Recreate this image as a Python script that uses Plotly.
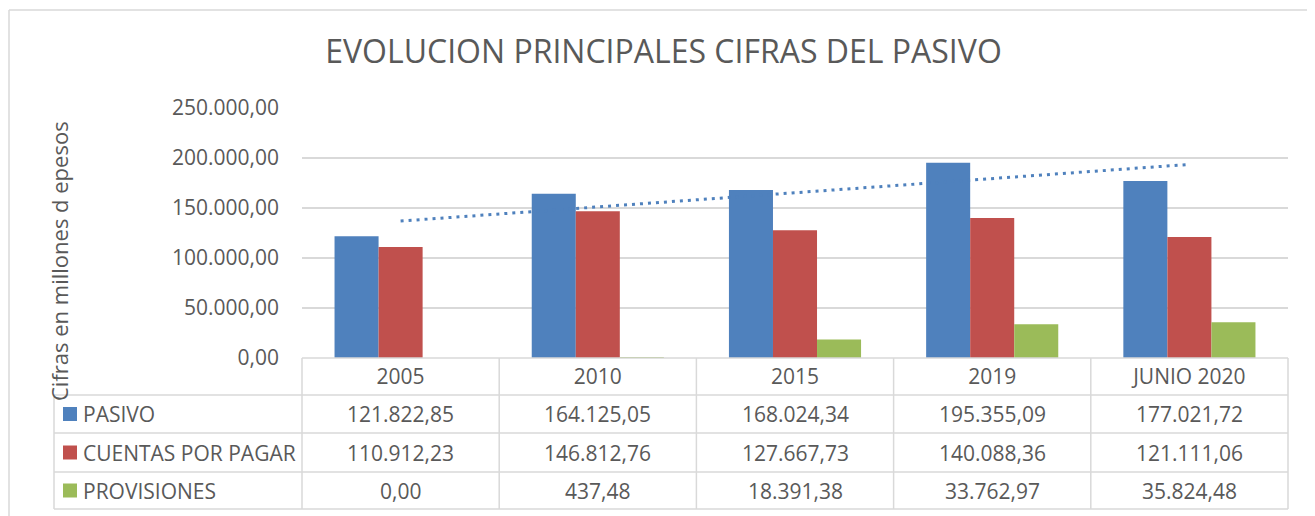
import numpy as np
import plotly.graph_objects as go

categories = ["2005", "2010", "2015", "2019", "JUNIO 2020"]
pasivo = [121822.85, 164125.05, 168024.34, 195355.09, 177021.72]
cuentas = [110912.23, 146812.76, 127667.73, 140088.36, 121111.06]
provisiones = [0.00, 437.48, 18391.38, 33762.97, 35824.48]
series_names = ["PASIVO", "CUENTAS POR PAGAR", "PROVISIONES"]
series_colors = ["#4F81BD", "#C0504D", "#9BBB59"]
y_ticks = [0, 50000, 100000, 150000, 200000, 250000]

TXT = "#595959"
GRID = "#D9D9D9"
FONT = "Open Sans"

OFF = 8  # page body margin
VW, VH = 1315, 516
W, H = VW - OFF, VH - OFF
# plot area in page pixels: x 302..1288, y 108..358
L = 302 - OFF
R = VW - 1288
T = 108 - OFF
B = VH - 358
PW = W - L - R
PH = H - T - B


def es(v):
    s = f"{v:,.2f}"
    return s.replace(",", "X").replace(".", ",").replace("X", ".")


def px_x(p):  # page px -> paper
    return (p - OFF - L) / PW


def px_y(p):
    return (H + OFF - B - p) / PH


fig = go.Figure()
for name, vals, col in zip(series_names, [pasivo, cuentas, provisiones], series_colors):
    fig.add_trace(go.Bar(x=categories, y=vals, name=name, marker=dict(color=col, line=dict(width=0)),
                         showlegend=False))

# linear trendline on PASIVO
xi = np.arange(1, len(categories) + 1)
slope, icpt = np.polyfit(xi, pasivo, 1)
trend = slope * xi + icpt
fig.add_trace(go.Scatter(x=categories, y=trend, mode="lines", showlegend=False,
                         line=dict(color="#4F81BD", width=3, dash="3px,5px")))

shapes = []
annotations = []

# chart border (left and top edges visible)
shapes.append(dict(type="line", xref="paper", yref="paper", x0=px_x(9), x1=px_x(9),
                   y0=px_y(VH + 5), y1=px_y(10), line=dict(color=GRID, width=1.5)))
shapes.append(dict(type="line", xref="paper", yref="paper", x0=px_x(9), x1=px_x(VW + 5),
                   y0=px_y(10), y1=px_y(10), line=dict(color=GRID, width=1.5)))

# data table
row_b = [358, 395, 433, 472, 509]
left = 54
n = len(categories)
lw = 1.5
shapes.append(dict(type="line", xref="paper", yref="paper", x0=0, x1=1, y0=px_y(row_b[0]), y1=px_y(row_b[0]),
                   line=dict(color=GRID, width=lw)))
for rb in row_b[1:]:
    shapes.append(dict(type="line", xref="paper", yref="paper", x0=px_x(left), x1=1, y0=px_y(rb), y1=px_y(rb),
                       line=dict(color=GRID, width=lw)))
shapes.append(dict(type="line", xref="paper", yref="paper", x0=px_x(left), x1=px_x(left),
                   y0=px_y(row_b[1]), y1=px_y(row_b[-1]), line=dict(color=GRID, width=lw)))
for k in range(n + 1):
    shapes.append(dict(type="line", xref="paper", yref="paper", x0=k / n, x1=k / n,
                       y0=px_y(row_b[0]), y1=px_y(row_b[-1]), line=dict(color=GRID, width=lw)))

for r, (name, vals, col) in enumerate(zip(series_names, [pasivo, cuentas, provisiones], series_colors)):
    yc = (row_b[r + 1] + row_b[r + 2]) / 2
    shapes.append(dict(type="rect", xref="paper", yref="paper", x0=px_x(63), x1=px_x(77),
                       y0=px_y(yc + 7), y1=px_y(yc - 7), fillcolor=col, line=dict(width=0)))
    annotations.append(dict(xref="paper", yref="paper", x=px_x(81), y=px_y(yc), text=name, showarrow=False,
                            xanchor="left", yanchor="middle", font=dict(family=FONT, size=21, color=TXT)))
    for k, v in enumerate(vals):
        annotations.append(dict(xref="paper", yref="paper", x=(k + 0.5) / n, y=px_y(yc), text=es(v),
                                showarrow=False, xanchor="center", yanchor="middle",
                                font=dict(family=FONT, size=21, color=TXT)))

# y-axis title
annotations.append(dict(xref="paper", yref="paper", x=px_x(59), y=px_y(261), text="Cifras en millones d epesos",
                        textangle=-90, showarrow=False, xanchor="center", yanchor="middle",
                        font=dict(family=FONT, size=22, color=TXT)))

fig.update_layout(
    width=W, height=H,
    margin=dict(l=L, r=R, t=T, b=B),
    paper_bgcolor="white", plot_bgcolor="white",
    barmode="group", bargap=0.33, bargroupgap=0,
    font=dict(family=FONT, color=TXT),
    title=dict(text="EVOLUCION PRINCIPALES CIFRAS DEL PASIVO", x=(663.5 - OFF) / W, xref="container",
               xanchor="center", y=1 - (52 - OFF) / H, yref="container", yanchor="middle",
               font=dict(family=FONT, size=32, color=TXT)),
    xaxis=dict(type="category", showgrid=False, showline=False, ticks="", zeroline=False,
               tickfont=dict(family=FONT, size=21, color=TXT), ticklabelstandoff=4),
    yaxis=dict(range=[0, 250000], tickvals=y_ticks, ticktext=[es(v) for v in y_ticks], showgrid=True,
               gridcolor=GRID, gridwidth=1.5, zeroline=False, showline=False, ticks="",
               tickfont=dict(family=FONT, size=21, color=TXT), ticklabelstandoff=22),
    shapes=shapes, annotations=annotations,
)

fig.write_html("out.html", post_script="document.body.style.overflow='hidden';")
